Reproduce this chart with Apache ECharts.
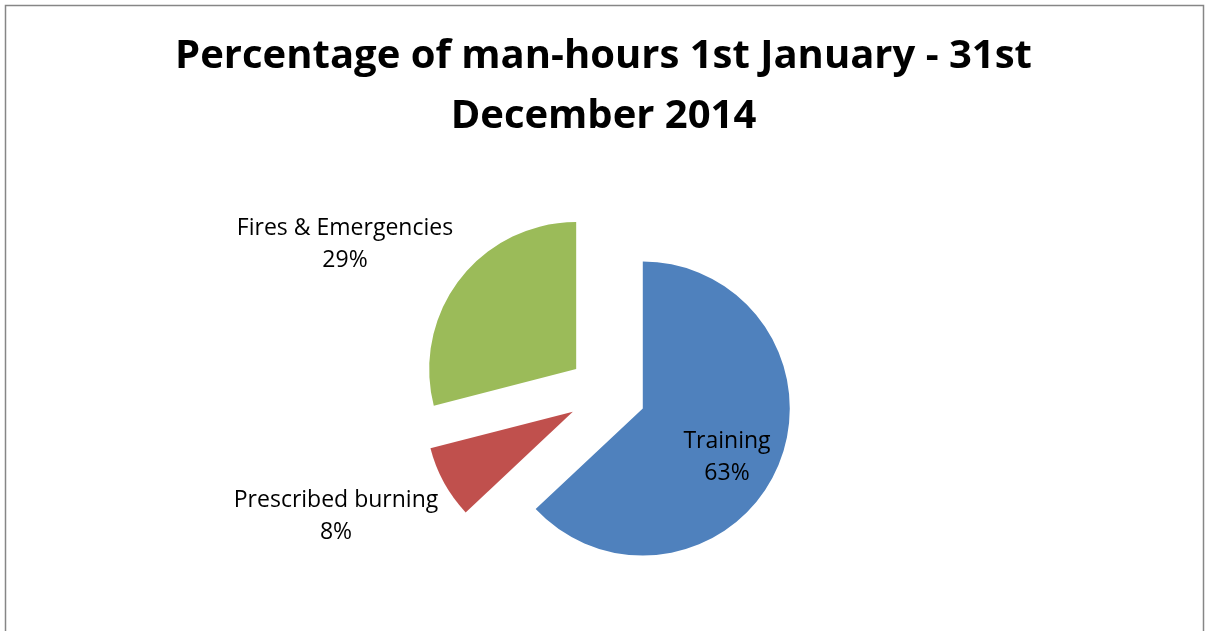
<!DOCTYPE html>
<html>
<head>
<meta charset="utf-8">
<script src="https://cdn.jsdelivr.net/npm/echarts@6/dist/echarts.min.js"></script>
<style>
  html, body { margin: 0; padding: 0; background: #fff; }
  #chart { width: 1207px; height: 631px; }
</style>
</head>
<body>
<div id="chart"></div>
<script>
  // data
  var categories = ['Training', 'Prescribed burning', 'Fires & Emergencies'];
  var shares = [63, 8, 29];
  var colors = ['#4F81BD', '#C0504D', '#9BBB59'];

  // centre of each label block, Excel style placement
  var labelSpots = [[727, 457], [336, 516], [345, 244]];

  var myChart = echarts.init(document.getElementById('chart'));

  var pieData = categories.map(function (name, i) {
    return {
      name: name,
      value: shares[i],
      selected: true,
      itemStyle: { color: colors[i] }
    };
  });

  // labels as plain text elements
  var labelTexts = categories.map(function (name, i) {
    return {
      type: 'text',
      silent: true,
      z: 10,
      style: {
        x: labelSpots[i][0],
        y: labelSpots[i][1],
        text: name + '\n' + shares[i] + '%',
        align: 'center',
        verticalAlign: 'middle',
        fontFamily: 'Open Sans',
        fontSize: 23,
        lineHeight: 32,
        fill: '#000'
      }
    };
  });

  myChart.setOption({
    animation: false,
    title: {
      text: 'Percentage of man-hours 1st January - 31st\nDecember 2014',
      left: 'center',
      top: 22,
      textStyle: {
        fontFamily: 'Open Sans',
        fontWeight: 'bold',
        fontSize: 40,
        lineHeight: 60,
        color: '#000'
      }
    },
    graphic: [{
      type: 'rect',
      shape: { x: 5.5, y: 5.5, width: 1198, height: 640 },
      style: { fill: 'none', stroke: '#868686', lineWidth: 1.5 },
      silent: true
    }].concat(labelTexts),
    series: [{
      type: 'pie',
      center: [607, 393],
      radius: 147,
      startAngle: 90,
      clockwise: true,
      selectedMode: 'multiple',
      selectedOffset: 39,
      emphasis: { disabled: true },
      label: { show: false },
      labelLine: { show: false },
      data: pieData
    }]
  });
</script>
</body>
</html>
